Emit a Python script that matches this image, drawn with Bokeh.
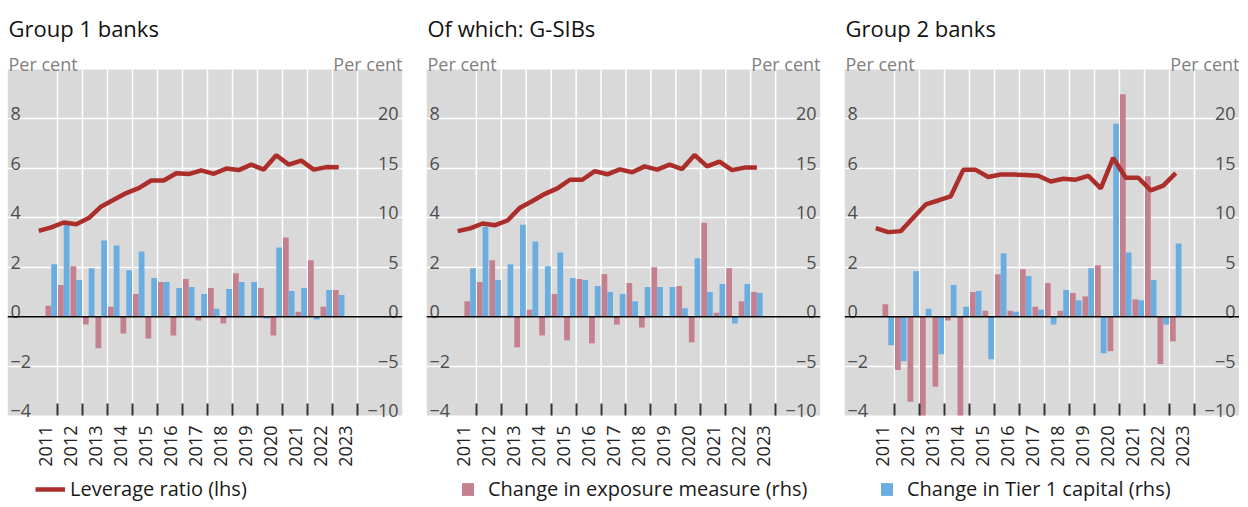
import math
from bokeh.plotting import figure
from bokeh.models import Range1d, FixedTicker, Span, Legend, LegendItem, BoxAnnotation
from bokeh.layouts import row
from bokeh.embed import file_html
from bokeh.resources import INLINE
from bokeh.core.properties import value

# ---------------- data ----------------
years = list(range(2011, 2024))
periods = []
for _y in years:
    periods.append(f"Jun {_y}")
    if _y < 2023:
        periods.append(f"Dec {_y}")

titles = ["Group 1 banks", "Of which: G-SIBs", "Group 2 banks"]

# Leverage ratio (lhs), per cent
g1_leverage = [3.47, 3.61, 3.81, 3.74, 3.99, 4.46, 4.73, 5.00, 5.20, 5.51, 5.51, 5.80, 5.77,
               5.92, 5.78, 5.99, 5.93, 6.15, 5.95, 6.53, 6.15, 6.31, 5.95, 6.05, 6.04]
gsib_leverage = [3.46, 3.57, 3.77, 3.70, 3.89, 4.41, 4.68, 4.97, 5.19, 5.54, 5.54, 5.89, 5.76,
                 5.96, 5.84, 6.08, 5.95, 6.15, 5.97, 6.54, 6.08, 6.27, 5.93, 6.03, 6.03]
g2_leverage = [3.58, 3.42, 3.46, 4.00, 4.54, 4.70, 4.87, 5.94, 5.94, 5.65, 5.75, 5.75, 5.73,
               5.70, 5.47, 5.58, 5.54, 5.70, 5.19, 6.42, 5.62, 5.62, 5.11, 5.30, 5.81]

# Change in exposure measure (rhs), per cent, Dec 2011 onwards
g1_exposure = [1.1, 3.2, 5.1, -0.8, -3.2, 1.0, -1.7, 2.3, -2.2, 3.5, -1.9, 3.8,
               -0.4, 2.9, -0.7, 4.4, 0.1, 2.9, -1.9, 8.0, 0.5, 5.7, 1.0, 2.7]
gsib_exposure = [1.55, 3.5, 5.7, 0.1, -3.1, 0.7, -1.9, 2.3, -2.4, 3.8, -2.7, 4.3,
                 -0.8, 3.4, -1.1, 5.0, 0.0, 3.1, -2.6, 9.5, 0.4, 4.9, 1.55, 2.5]
g2_exposure = [1.25, -5.4, -8.6, -10.0, -7.1, -0.4, -10.0, 2.5, 0.6, 4.3, 0.6, 4.8,
               1.0, 3.4, 0.6, 2.4, 2.05, 5.2, -3.5, 22.5, 1.75, 14.2, -4.8, -2.5]

# Change in Tier 1 capital (rhs), per cent, Dec 2011 onwards
g1_tier1 = [5.3, 9.3, 3.7, 4.9, 7.7, 7.2, 4.7, 6.6, 3.9, 3.5, 2.9, 3.0,
            2.3, 0.8, 2.8, 3.5, 3.5, -0.2, 7.0, 2.6, 2.9, -0.3, 2.7, 2.2]
gsib_tier1 = [4.9, 9.1, 3.7, 5.3, 9.3, 7.6, 5.1, 6.5, 3.9, 3.7, 3.1, 2.5,
              2.3, 1.55, 3.0, 3.0, 3.0, 0.85, 5.9, 2.5, 3.3, -0.7, 3.3, 2.4]
g2_tier1 = [-2.9, -4.5, 4.6, 0.8, -3.8, 3.2, 1.0, 2.6, -4.3, 6.4, 0.5, 4.1,
            0.7, -0.8, 2.7, 1.65, 4.9, -3.7, 19.5, 6.5, 1.65, 3.7, -0.8, 7.4]

lhs_ticks = [-4, -2, 0, 2, 4, 6, 8]
rhs_ticks = [-10, -5, 0, 5, 10, 15, 20]

legend_labels = ["Leverage ratio (lhs)", "Change in exposure measure (rhs)",
                 "Change in Tier 1 capital (rhs)"]

# ---------------- style / layout ----------------
FONT = "Open Sans"
RED = "#AB2E2B"
PINK = "#C4808F"
BLUE = "#6AADE0"
BG = "#D9D9D9"
X_START, X_END = 2010.0, 2025.8
LHS_LO, LHS_HI = -4, 10          # grey plotting area on the lhs scale
RHS_LO, RHS_HI = -10, 25         # same area on the rhs scale
PLOT_PX = 346                    # grey area height, px
HEAD_PX = 69                     # white header above it (title, units)
FOOT_PX = 92                     # white footer below it (years, legend)
FRAME_H = HEAD_PX + PLOT_PX + FOOT_PX
LHS_PER_PX = (LHS_HI - LHS_LO) / PLOT_PX
RHS_PER_PX = (RHS_HI - RHS_LO) / PLOT_PX
BW = 0.23


def period_x(label):
    m, y = label.split()
    return int(y) + (0.25 if m == "Jun" else 0.75)


def fmt(v):
    return str(v).replace("-", "\u2212")


line_x = [period_x(p) for p in periods]
bar_x = line_x[1:]
year_ends = [y + 1 for y in years]


def make_panel(title, lev, expo, tier1, which, fw, bl, br):
    y_top = LHS_HI + HEAD_PX * LHS_PER_PX
    y_bot = LHS_LO - FOOT_PX * LHS_PER_PX
    p = figure(frame_width=fw, frame_height=FRAME_H,
               x_range=Range1d(X_START, X_END), y_range=Range1d(y_bot, y_top),
               y_axis_location=None,
               output_backend="svg", toolbar_location=None,
               min_border_left=bl, min_border_right=br,
               min_border_top=0, min_border_bottom=0,
               background_fill_color="white", border_fill_color="white",
               outline_line_color=None)
    p.extra_y_ranges = {"rhs": Range1d(RHS_LO - FOOT_PX * RHS_PER_PX,
                                       RHS_HI + HEAD_PX * RHS_PER_PX)}

    # grey plotting area beneath the grid
    box = BoxAnnotation(bottom=LHS_LO, top=LHS_HI, fill_color=BG, fill_alpha=1.0,
                        line_color=None, level="underlay")
    p.center = [box] + list(p.center)

    p.ygrid.ticker = FixedTicker(ticks=[t for t in lhs_ticks if t > LHS_LO])
    p.ygrid.grid_line_color = "white"
    p.ygrid.grid_line_width = 1.5
    p.xgrid.visible = False
    p.segment(x0=year_ends, x1=year_ends, y0=[LHS_LO] * len(year_ends),
              y1=[LHS_HI] * len(year_ends), line_color="white", line_width=1.5)

    # x axis pinned to the bottom of the grey area
    ax = p.xaxis[0]
    ax.fixed_location = LHS_LO
    ax.ticker = FixedTicker(ticks=[y + 0.5 for y in years], minor_ticks=year_ends)
    ax.major_label_overrides = {y + 0.5: str(y) for y in years}
    ax.major_label_orientation = math.pi / 2
    ax.major_tick_line_color = None
    ax.major_tick_in = 0
    ax.major_tick_out = 0
    ax.minor_tick_in = 12
    ax.minor_tick_out = 0
    ax.minor_tick_line_color = "#333333"
    ax.minor_tick_line_width = 2
    ax.axis_line_color = None
    ax.major_label_standoff = 10
    ax.major_label_text_font = FONT
    ax.major_label_text_font_size = "18px"
    ax.major_label_text_color = "#222222"

    r_exp = p.vbar(x=[x - BW / 2 for x in bar_x], top=expo, bottom=0, width=BW,
                   y_range_name="rhs", fill_color=PINK, line_color=None)
    r_t1 = p.vbar(x=[x + BW / 2 for x in bar_x], top=tier1, bottom=0, width=BW,
                  y_range_name="rhs", fill_color=BLUE, line_color=None)
    r_lev = p.line(x=line_x, y=lev, line_color=RED, line_width=4.5)

    p.add_layout(Span(location=0, dimension="width", line_color="black", line_width=1.5))

    # header: title and units
    p.text(x=[X_START], y=[LHS_HI], text=[title], x_offset=1, y_offset=27 - HEAD_PX,
           text_font=value(FONT), text_font_size="22px", text_color="#111111",
           text_align="left", text_baseline="alphabetic")
    p.text(x=[X_START, X_END], y=[LHS_HI, LHS_HI], text=["Per cent", "Per cent"],
           x_offset=[1, 0], y_offset=-6, text_font=value(FONT), text_font_size="18px",
           text_color="#7F7F7F", text_align=["left", "right"], text_baseline="alphabetic")

    # axis values inside the grey area
    p.text(x=[X_START] * len(lhs_ticks), y=lhs_ticks, text=[fmt(t) for t in lhs_ticks],
           x_offset=3, y_offset=-5, text_font=value(FONT), text_font_size="18px",
           text_color="#4D4D4D", text_align="left", text_baseline="alphabetic")
    p.text(x=[X_END] * len(rhs_ticks), y=rhs_ticks, text=[fmt(t) for t in rhs_ticks],
           y_range_name="rhs",
           x_offset=-4, y_offset=-5, text_font=value(FONT), text_font_size="18px",
           text_color="#4D4D4D", text_align="right", text_baseline="alphabetic")

    if which == 0:
        item = LegendItem(label=legend_labels[0], renderers=[r_lev])
        leg = Legend(items=[item], location=(28, 5), glyph_width=30, glyph_height=16,
                     label_standoff=5)
    elif which == 1:
        item = LegendItem(label=legend_labels[1], renderers=[r_exp])
        leg = Legend(items=[item], location=(34, 5), glyph_width=15, glyph_height=16,
                     label_standoff=13)
    else:
        item = LegendItem(label=legend_labels[2], renderers=[r_t1])
        leg = Legend(items=[item], location=(35, 5), glyph_width=15, glyph_height=16,
                     label_standoff=13)
    leg.border_line_color = None
    leg.background_fill_alpha = 0
    leg.margin = 0
    leg.padding = 0
    leg.label_text_font = FONT
    leg.label_text_font_size = "20px"
    leg.label_text_color = "#1A1A1A"
    p.add_layout(leg, "center")
    return p


p1 = make_panel(titles[0], g1_leverage, g1_exposure, g1_tier1, 0, 395, 7, 24)
p2 = make_panel(titles[1], gsib_leverage, gsib_exposure, gsib_tier1, 1, 394, 0, 24)
p3 = make_panel(titles[2], g2_leverage, g2_exposure, g2_tier1, 2, 395, 0, 0)

layout = row(p1, p2, p3)
open("out.html", "w").write(file_html(layout, INLINE))
